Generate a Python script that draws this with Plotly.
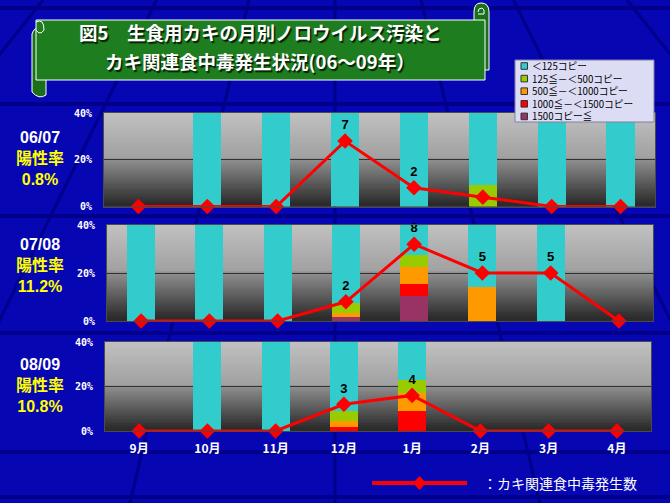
import plotly.graph_objects as go

W, H = 670, 503

months = ["9月", "10月", "11月", "12月", "1月", "2月", "3月", "4月"]
seasons = ["06/07", "07/08", "08/09"]
positive_rates = ["0.8%", "11.2%", "10.8%"]

level_names = ["＜125コピー", "125≦－＜500コピー", "500≦－＜1000コピー",
               "1000≦－＜1500コピー", "1500コピー≦"]
level_colors = ["#33CCCC", "#99CC00", "#FF9900", "#FF0000", "#993366"]

# share of samples (%) per contamination level, None = no sample / zero
# 06/07
s1_lt125 = [None, 100, 100, 100, 100, 91, 100, 100]
s1_125 = [None, None, None, None, None, 9, None, None]
s1_500 = [None] * 8
s1_1000 = [None] * 8
s1_1500 = [None] * 8
# 07/08
s2_lt125 = [100, 100, 100, 92.5, 72.5, 86, 100, None]
s2_125 = [None, None, None, 4, 5, None, None, None]
s2_500 = [None, None, None, 2, 7, 14, None, None]
s2_1000 = [None, None, None, None, 5, None, None, None]
s2_1500 = [None, None, None, 1.5, 10.5, None, None, None]
# 08/09
s3_lt125 = [None, 100, 100, 91, 77, None, None, None]
s3_125 = [None, None, None, 4.5, 6, None, None, None]
s3_500 = [None, None, None, 2.5, 8, None, None, None]
s3_1000 = [None, None, None, 2, 9, None, None, None]
s3_1500 = [None] * 8

# oyster-related food poisoning outbreaks (count)
outbreaks_1 = [0, 0, 0, 7, 2, 1, 0, 0]
outbreaks_2 = [0, 0, 0, 2, 8, 5, 5, 0]
outbreaks_3 = [0, 0, 0, 3, 4, 0, 0, 0]
outbreak_labels_1 = ["", "", "", "7", "2", "", "", ""]
outbreak_labels_2 = ["", "", "", "2", "8", "5", "5", ""]
outbreak_labels_3 = ["", "", "", "3", "4", "", "", ""]

title_lines = ["図5　生食用カキの月別ノロウイルス汚染と", "カキ関連食中毒発生状況(06～09年）"]

level_data = [
    [s1_lt125, s1_125, s1_500, s1_1000, s1_1500],
    [s2_lt125, s2_125, s2_500, s2_1000, s2_1500],
    [s3_lt125, s3_125, s3_500, s3_1000, s3_1500],
]
outbreaks = [outbreaks_1, outbreaks_2, outbreaks_3]
outbreak_labels = [outbreak_labels_1, outbreak_labels_2, outbreak_labels_3]

# panel geometry in pixels (left, right, top, bottom)
panels_px = [(104, 655, 113, 206.5), (107, 653, 225, 321), (105, 651, 342, 431)]


def px(x):
    return x / W


def py(y):
    return 1 - y / H


fig = go.Figure()

# stacked bars: bottom (highest level) first
for p in range(3):
    xa = "x" if p == 0 else f"x{p+1}"
    ya = "y" if p == 0 else f"y{p+1}"
    for lvl in [4, 3, 2, 1, 0]:
        fig.add_trace(go.Bar(
            x=months, y=level_data[p][lvl], xaxis=xa, yaxis=ya,
            marker=dict(color=level_colors[lvl], line=dict(width=0)),
            width=0.41, showlegend=False, name=level_names[lvl],
            hoverinfo="skip"))

# outbreak lines on overlaid axes
for p in range(3):
    xa = "x" if p == 0 else f"x{p+1}"
    ya = f"y{p+4}"
    fig.add_trace(go.Scatter(
        x=months, y=outbreaks[p], xaxis=xa, yaxis=ya,
        mode="lines+markers+text", text=outbreak_labels[p],
        textposition="top center",
        textfont=dict(family="Liberation Sans", size=13, color="black",
                      weight="bold"),
        line=dict(color="#FF0000", width=3),
        marker=dict(symbol="diamond", size=12, color="#FF0000"),
        cliponaxis=False, showlegend=False, hoverinfo="skip"))

shapes = []
annotations = []

# background grid (decorative)
bg_line = "#00008A"
for yy in [8, 104, 216, 333, 452, 497]:
    shapes.append(dict(type="line", xref="paper", yref="paper",
                       x0=0, x1=1, y0=py(yy), y1=py(yy),
                       line=dict(color=bg_line, width=4), layer="below"))
vx = 335
for bx in [-700, -360, -90, 130, 335, 540, 760, 1030, 1370]:
    shapes.append(dict(type="line", xref="paper", yref="paper",
                       x0=px(vx + (bx - vx) * 0.42), y0=py(0),
                       x1=px(bx), y1=py(503),
                       line=dict(color=bg_line, width=3), layer="below"))

layout_axes = {}
for p in range(3):
    l, r, t, b = panels_px[p]
    xname = "xaxis" if p == 0 else f"xaxis{p+1}"
    yname = "yaxis" if p == 0 else f"yaxis{p+1}"
    yref = "y" if p == 0 else f"y{p+1}"
    xref = "x" if p == 0 else f"x{p+1}"
    layout_axes[xname] = dict(
        domain=[px(l), px(r)], anchor=yref, type="category",
        categoryorder="array", categoryarray=months, automargin=False,
        range=[-0.5, 7.5], showgrid=False, zeroline=False,
        showline=True, linecolor="#4a4a4a", linewidth=1, mirror=True,
        ticks="", showticklabels=(p == 2), ticklabelstandoff=7,
        tickfont=dict(family="Noto Sans CJK JP", size=12, color="white",
                      weight="bold"))
    layout_axes[yname] = dict(
        domain=[py(b), py(t)], anchor=xref, range=[0, 40], automargin=False,
        tickvals=[0, 20, 40], ticktext=["0%", "20%", "40%"],
        showgrid=True, gridcolor="#333333", gridwidth=1, zeroline=False,
        showline=True, linecolor="#4a4a4a", linewidth=1, mirror=True,
        ticks="", ticklabelstandoff=9,
        tickfont=dict(family="DejaVu Sans Mono", size=10, color="white",
                      weight="bold"))
    layout_axes[f"yaxis{p+4}"] = dict(
        overlaying=yref, anchor=xref, range=[0, 10], visible=False,
        automargin=False)

    # gray gradient plot background
    n = 40
    for i in range(n):
        t0 = i / n
        tc = (i + 0.5) / n
        if tc < 0.5:
            g = 194 - (194 - 160) * (tc / 0.5)
        else:
            g = 146 - (146 - 40) * ((tc - 0.5) / 0.5)
        g = int(round(g))
        shapes.append(dict(type="rect", xref=f"{xref} domain",
                           yref=f"{yref} domain", x0=0, x1=1,
                           y0=1 - t0 - 1 / n, y1=min(1, 1 - t0 + 0.6 / n),
                           fillcolor=f"rgb({g},{g},{g})",
                           line=dict(width=0), layer="below"))

    # left side labels (season / positive rate)
    cy = [159, 265, 385][p]
    annotations.append(dict(
        x=px(39.5), y=py(cy), xref="paper", yref="paper",
        xanchor="center", yanchor="middle", align="center", showarrow=False,
        text=(f"<span style='color:white'>{seasons[p]}</span><br>"
              f"陽性率<br>{positive_rates[p]}"),
        font=dict(family="Liberation Sans, Noto Sans CJK JP", size=16,
                  color="#FFFF00", weight="bold")))

# title banner
green = "#1E7D1E"
shapes.append(dict(type="path", xref="paper", yref="paper",
                   path=(f"M {px(40)} {py(28)} L {px(46)} {py(28)} L {px(46)} {py(95)} "
                         f"Q {px(39)} {py(100)} {px(32)} {py(92)} L {px(32)} {py(34)} "
                         f"Q {px(34)} {py(27)} {px(40)} {py(28)} Z"),
                   fillcolor="#1A6F1A", line=dict(color="white", width=1), layer="above"))
shapes.append(dict(type="path", xref="paper", yref="paper",
                   path=(f"M {px(474)} {py(12)} Q {px(474)} {py(3)} {px(481)} {py(3)} "
                         f"Q {px(489)} {py(3)} {px(489)} {py(12)} L {px(489)} {py(70)} "
                         f"L {px(474)} {py(70)} Z"),
                   fillcolor="#1A6F1A", line=dict(color="white", width=1), layer="above"))
shapes.append(dict(type="rect", xref="paper", yref="paper",
                   x0=px(36), x1=px(485), y0=py(80), y1=py(20),
                   fillcolor=green, line=dict(color="white", width=1), layer="above"))
shapes.append(dict(type="path", xref="paper", yref="paper",
                   path=(f"M {px(36)} {py(22)} Q {px(44)} {py(18)} {px(44)} {py(30)} "
                         f"Q {px(40)} {py(36)} {px(36)} {py(30)}"),
                   fillcolor="rgba(0,0,0,0)", line=dict(color="white", width=1), layer="above"))
shapes.append(dict(type="path", xref="paper", yref="paper",
                   path=(f"M {px(478)} {py(12)} Q {px(478)} {py(8)} {px(482)} {py(8)} "
                         f"Q {px(485)} {py(9)} {px(484)} {py(14)} L {px(478)} {py(14)}"),
                   fillcolor="rgba(0,0,0,0)", line=dict(color="white", width=1), layer="above"))

for i, (line, ty) in enumerate(zip(title_lines, [32.5, 60.5])):
    annotations.append(dict(x=px(260), y=py(ty), xref="paper", yref="paper",
                            text=line, xanchor="center", yanchor="middle",
                            showarrow=False, borderpad=0,
                            font=dict(family="Noto Sans CJK JP", size=18.5,
                                      color="white", weight="bold",
                                      shadow="1.5px 1.5px 1px #062006")))

# level legend box
shapes.append(dict(type="rect", xref="paper", yref="paper",
                   x0=px(515), x1=px(654), y0=py(122), y1=py(60),
                   fillcolor="#DCDCF4", line=dict(color="#8080A0", width=1),
                   layer="above"))
leg_y = [66, 78.6, 91.2, 103.8, 116.4]
for i in range(5):
    shapes.append(dict(type="rect", xref="paper", yref="paper",
                       x0=px(521), x1=px(527.5), y0=py(leg_y[i] + 3.3),
                       y1=py(leg_y[i] - 3.3), fillcolor=level_colors[i],
                       line=dict(color="#333333", width=1), layer="above"))
annotations.append(dict(x=px(530), y=py(sum(leg_y) / 5), xref="paper", yref="paper",
                        xanchor="left", yanchor="middle", align="left",
                        text="<br>".join(level_names), showarrow=False,
                        font=dict(family="Noto Sans CJK JP", size=9.7,
                                  color="black")))

# outbreak line legend
shapes.append(dict(type="line", xref="paper", yref="paper",
                   x0=px(372), x1=px(467), y0=py(483), y1=py(483),
                   line=dict(color="#FF0000", width=4), layer="above"))
shapes.append(dict(type="path", xref="paper", yref="paper",
                   path=(f"M {px(413)} {py(483)} L {px(419.5)} {py(476)} "
                         f"L {px(426)} {py(483)} L {px(419.5)} {py(490)} Z"),
                   fillcolor="#FF0000", line=dict(width=0), layer="above"))
annotations.append(dict(x=px(481), y=py(483), xref="paper", yref="paper",
                        xanchor="left", yanchor="middle",
                        text="：カキ関連食中毒発生数", showarrow=False,
                        font=dict(family="Noto Sans CJK JP", size=14, color="white")))

fig.update_layout(
    width=W, height=H,
    margin=dict(l=0, r=0, t=0, b=0, pad=0, autoexpand=False),
    paper_bgcolor="#0606B2", plot_bgcolor="#888888",
    barmode="stack", bargap=0.5, showlegend=False,
    shapes=shapes, annotations=annotations,
    **layout_axes)

fig.write_html("out.html")
